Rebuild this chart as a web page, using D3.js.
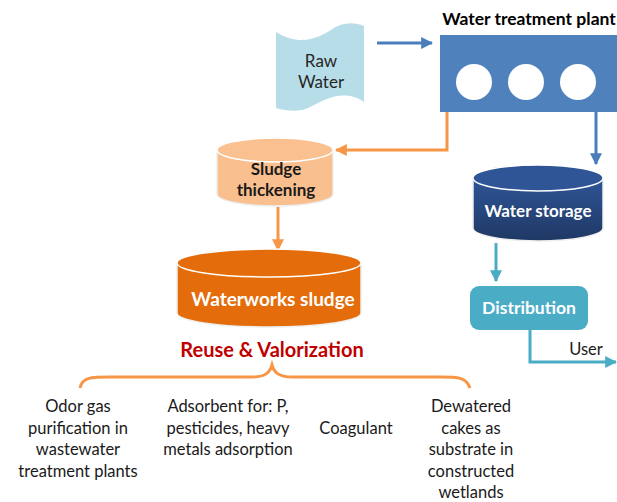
<!DOCTYPE html>
<html><head>
<meta charset="utf-8">
<title>Waterworks sludge</title>
<style>
body { margin: 0; background: #fff; font-family: Lato, "Open Sans", sans-serif; }
svg text { font-family: Lato, "Open Sans", sans-serif; }
</style>
<script src="https://d3js.org/d3.v7.min.js"></script>
</head>
<body>
<div id="chart"></div>
<script>
// labels
const rawLines = ["Raw", "Water"];
const plantTitle = "Water treatment plant";
const plantCircles = [0, 1, 2];
const thickLines = ["Sludge", "thickening"];
const sludgeLabel = "Waterworks sludge";
const storageLabel = "Water storage";
const distLabel = "Distribution";
const userLabel = "User";
const reuseLabel = "Reuse & Valorization";
const uses = [
  ["Odor gas", "purification in", "wastewater", "treatment plants"],
  ["Adsorbent for: P,", "pesticides, heavy", "metals adsorption"],
  ["Coagulant"],
  ["Dewatered", "cakes as", "substrate in", "constructed", "wetlands"]
];
const useX = [78, 228, 356, 471];
const useRow = [0, 0, 1, 0];

const W = 617, H = 502;
const svg = d3.select("#chart").append("svg").attr("width", W).attr("height", H);
const defs = svg.append("defs");

function marker(id, color) {
  defs.append("marker").attr("id", id).attr("viewBox", "0 0 10 10")
    .attr("refX", 9).attr("refY", 5).attr("markerWidth", 4).attr("markerHeight", 4)
    .attr("orient", "auto")
    .append("path").attr("d", "M0,0 L10,5 L0,10 Z").attr("fill", color);
}
marker("aBlue", "#4a7ebb");
marker("aOrange", "#f79646");
marker("aTeal", "#4bacc6");

const g1 = defs.append("linearGradient").attr("id", "gStore").attr("x1", 0).attr("y1", 0).attr("x2", 0).attr("y2", 1);
g1.append("stop").attr("offset", "0%").attr("stop-color", "#2f5597");
g1.append("stop").attr("offset", "100%").attr("stop-color", "#1f3864");

// cylinder helper
function cylinder(cx, top, w, h, ry, fill, topFill) {
  const x0 = cx - w / 2, x1 = cx + w / 2;
  const g = svg.append("g");
  g.append("path")
    .attr("d", `M${x0},${top} L${x0},${top + h} A${w / 2},${ry} 0 0 0 ${x1},${top + h} L${x1},${top} Z`)
    .attr("fill", fill).attr("stroke", "#eee").attr("stroke-width", 1.5);
  g.append("ellipse").attr("cx", cx).attr("cy", top).attr("rx", w / 2).attr("ry", ry)
    .attr("fill", topFill).attr("stroke", "#fff").attr("stroke-width", 1.5);
  return g;
}

// Raw water shape
const rw = svg.append("g");
const rx0 = 276, rx1 = 364;
rw.append("path")
  .attr("d", `M${rx0},32 C${rx0 + 25},48 ${rx0 + 45},36 ${rx0 + 55},30 C${rx0 + 66},22 ${rx0 + 78},22 ${rx1},26 L${rx1},102 C${rx1 - 20},88 ${rx1 - 40},100 ${rx1 - 52},106 C${rx1 - 62},112 ${rx1 - 75},112 ${rx0},108 Z`)
  .attr("fill", "#b7dee8");
rw.selectAll("text").data(rawLines).join("text")
  .attr("x", 321).attr("y", (d, i) => 67 + i * 21)
  .attr("text-anchor", "middle").attr("font-size", 17).attr("fill", "#262626")
  .text(d => d);

// arrow raw -> plant
svg.append("line").attr("x1", 377).attr("y1", 43).attr("x2", 432).attr("y2", 43)
  .attr("stroke", "#4a7ebb").attr("stroke-width", 3).attr("marker-end", "url(#aBlue)");

// plant
svg.append("text").attr("x", 529).attr("y", 25).attr("text-anchor", "middle")
  .attr("font-size", 17.5).attr("font-weight", "bold").attr("fill", "#000").text(plantTitle);
svg.append("rect").attr("x", 440).attr("y", 35).attr("width", 180).attr("height", 77).attr("fill", "#4f81bd");
const cxScale = d3.scalePoint().domain(plantCircles).range([474, 578]);
svg.selectAll("circle.tank").data(plantCircles).join("circle").attr("class", "tank")
  .attr("cx", d => cxScale(d)).attr("cy", 82).attr("r", 18).attr("fill", "#fff");

// plant -> thickening (orange)
svg.append("path").attr("d", "M447,112 L447,150 L336,150").attr("fill", "none")
  .attr("stroke", "#f79646").attr("stroke-width", 3).attr("marker-end", "url(#aOrange)");
// plant -> storage (blue)
svg.append("path").attr("d", "M596,112 L596,164").attr("fill", "none")
  .attr("stroke", "#4a7ebb").attr("stroke-width", 3).attr("marker-end", "url(#aBlue)");

// sludge thickening cylinder
const th = cylinder(275, 150, 116, 44, 12, "#fabf8f", "#fac090");
th.selectAll("text").data(thickLines).join("text")
  .attr("x", 276).attr("y", (d, i) => 175 + i * 21).attr("text-anchor", "middle")
  .attr("font-size", 17).attr("font-weight", "bold").attr("fill", "#1a1a1a").text(d => d);

// thickening -> sludge
svg.append("line").attr("x1", 278).attr("y1", 207).attr("x2", 278).attr("y2", 250)
  .attr("stroke", "#f79646").attr("stroke-width", 3).attr("marker-end", "url(#aOrange)");

// waterworks sludge cylinder
const ws = cylinder(269, 263, 184, 50, 14, "#e46c0a", "#e46c0a");
ws.append("text").attr("x", 273).attr("y", 306).attr("text-anchor", "middle")
  .attr("font-size", 19).attr("font-weight", "bold").attr("fill", "#fff").text(sludgeLabel);

svg.append("text").attr("x", 272).attr("y", 357).attr("text-anchor", "middle")
  .attr("font-size", 20).attr("font-weight", "bold").attr("fill", "#c00000").text(reuseLabel);

// brace
svg.append("path")
  .attr("d", "M80,388 C82,377 92,377 110,377 L252,377 C266,377 270,372 272,365 C274,372 278,377 292,377 L440,377 C458,377 466,377 470,388")
  .attr("fill", "none").attr("stroke", "#f79646").attr("stroke-width", 3);

// bottom uses
uses.forEach((lines, k) => {
  svg.append("g").selectAll("text").data(lines).join("text")
    .attr("x", useX[k]).attr("y", (d, i) => 412 + (i + useRow[k]) * 21.5)
    .attr("text-anchor", "middle").attr("font-size", 16.5).attr("fill", "#1a1a1a").text(d => d);
});

// water storage
const st = cylinder(538, 178, 130, 50, 13, "url(#gStore)", "#2f5597");
st.append("text").attr("x", 538).attr("y", 217).attr("text-anchor", "middle")
  .attr("font-size", 17).attr("font-weight", "bold").attr("fill", "#fff").text(storageLabel);

// storage -> distribution
svg.append("line").attr("x1", 496).attr("y1", 243).attr("x2", 496).attr("y2", 281)
  .attr("stroke", "#4bacc6").attr("stroke-width", 3).attr("marker-end", "url(#aTeal)");

svg.append("rect").attr("x", 470).attr("y", 286).attr("width", 118).attr("height", 44).attr("rx", 9)
  .attr("fill", "#4bacc6");
svg.append("text").attr("x", 529).attr("y", 314).attr("text-anchor", "middle")
  .attr("font-size", 17.5).attr("font-weight", "bold").attr("fill", "#fff").text(distLabel);

svg.append("path").attr("d", "M530,330 L530,362 L616,362").attr("fill", "none")
  .attr("stroke", "#4bacc6").attr("stroke-width", 3).attr("marker-end", "url(#aTeal)");
svg.append("text").attr("x", 586).attr("y", 355).attr("text-anchor", "middle")
  .attr("font-size", 16.5).attr("fill", "#1a1a1a").text(userLabel);
</script>
</body></html>
